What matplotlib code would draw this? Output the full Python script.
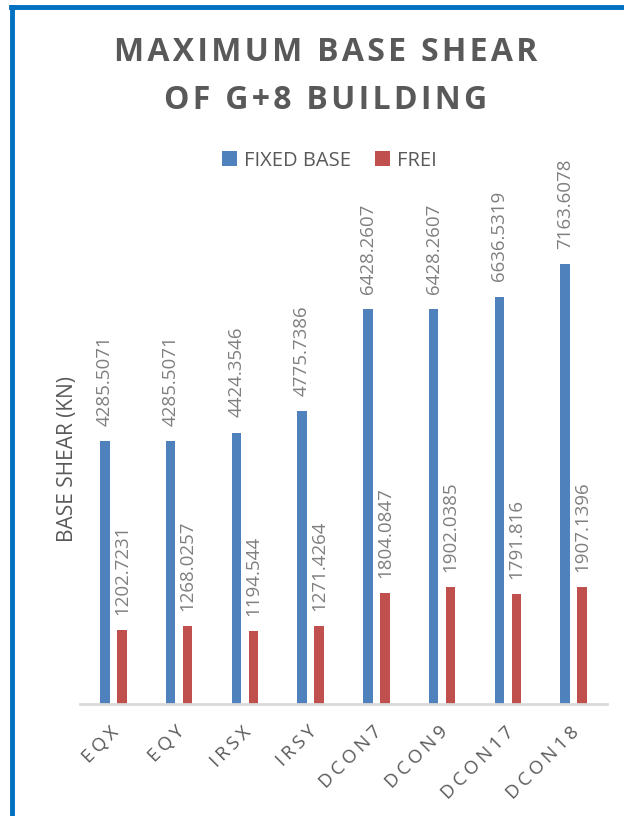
import matplotlib
matplotlib.use("Agg")
from matplotlib import pyplot as plt
from matplotlib.lines import Line2D
from matplotlib.transforms import ScaledTranslation
from numpy import arange

plt.rcParams["font.family"] = ["Open Sans", "DejaVu Sans"]

# Dados
cases = ["EQX", "EQY", "IRSX", "IRSY", "DCON7", "DCON9", "DCON17", "DCON18"]
fixed_base = [4285.5071, 4285.5071, 4424.3546, 4775.7386, 6428.2607, 6428.2607, 6636.5319, 7163.6078]
frei = [1202.7231, 1268.0257, 1194.544, 1271.4264, 1804.0847, 1902.0385, 1791.816, 1907.1396]
fixed_labels = ["4285.5071", "4285.5071", "4424.3546", "4775.7386", "6428.2607", "6428.2607", "6636.5319", "7163.6078"]
frei_labels = ["1202.7231", "1268.0257", "1194.544", "1271.4264", "1804.0847", "1902.0385", "1791.816", "1907.1396"]

blue = "#4F81BD"
red = "#C0504D"
dark = "#595959"
grey = "#7F7F7F"


def spaced(s, sep="\u200a"):
    # espaçamento entre letras (o matplotlib não tem letter-spacing)
    return sep.join(s)


fig = plt.figure(figsize=(6.24, 8.16), dpi=100)
ax = fig.add_axes([0.129, 0.137, 0.843, 0.602])

x = arange(len(cases))
w = 0.145
off = 0.13
b1 = ax.bar(x - off, fixed_base, width=w, color=blue, label="FIXED BASE")
b2 = ax.bar(x + off, frei, width=w, color=red, label="FREI")

for bars, labels in ((b1, fixed_labels), (b2, frei_labels)):
    for rect, lab in zip(bars, labels):
        ax.annotate(lab, (rect.get_x() + rect.get_width() / 2, rect.get_height()),
                    xytext=(0, 11), textcoords="offset points", rotation=90,
                    ha="center", va="bottom", fontsize=13.5, color=grey)

ax.set_xlim(-0.5, len(cases) - 0.5)
ax.set_ylim(0, 8000)
ax.set_yticks([])
ax.set_xticks(x)
ax.set_xticklabels([spaced(c, "\u200a\u200a") for c in cases], rotation=45, ha="right",
                   va="center", rotation_mode="anchor", fontsize=13.5, color=dark)
ax.tick_params(axis="x", length=0, pad=18)
shift = ScaledTranslation(0.03, 0, fig.dpi_scale_trans)
for lab in ax.get_xticklabels():
    lab.set_transform(lab.get_transform() + shift)
for s in ["top", "right", "left"]:
    ax.spines[s].set_visible(False)
ax.spines["bottom"].set_color("#D9D9D9")
ax.spines["bottom"].set_linewidth(2)
ax.set_ylabel("BASE SHEAR (KN)", fontsize=15, color=dark, labelpad=2)

fig.text(0.522, 0.936, spaced("MAXIMUM BASE SHEAR"), ha="center", va="center",
         fontsize=23, fontweight="bold", color=dark)
fig.text(0.522, 0.877, spaced("OF G+8 BUILDING"), ha="center", va="center",
         fontsize=23, fontweight="bold", color=dark)

fig.legend(loc="center", bbox_to_anchor=(0.528, 0.803), ncol=2, frameon=False,
           fontsize=14.5, labelcolor=dark, handlelength=0.75, handleheight=0.75,
           handletextpad=0.35, columnspacing=1.2)

# Borda azul
fig.add_artist(Line2D([0.019, 0.019], [0.0, 0.992], color="#0070C0", linewidth=3.5,
                      transform=fig.transFigure))
fig.add_artist(Line2D([0.017, 1.0], [0.992, 0.992], color="#0070C0", linewidth=3.5,
                      transform=fig.transFigure))

fig.savefig("out.png", dpi=100)
